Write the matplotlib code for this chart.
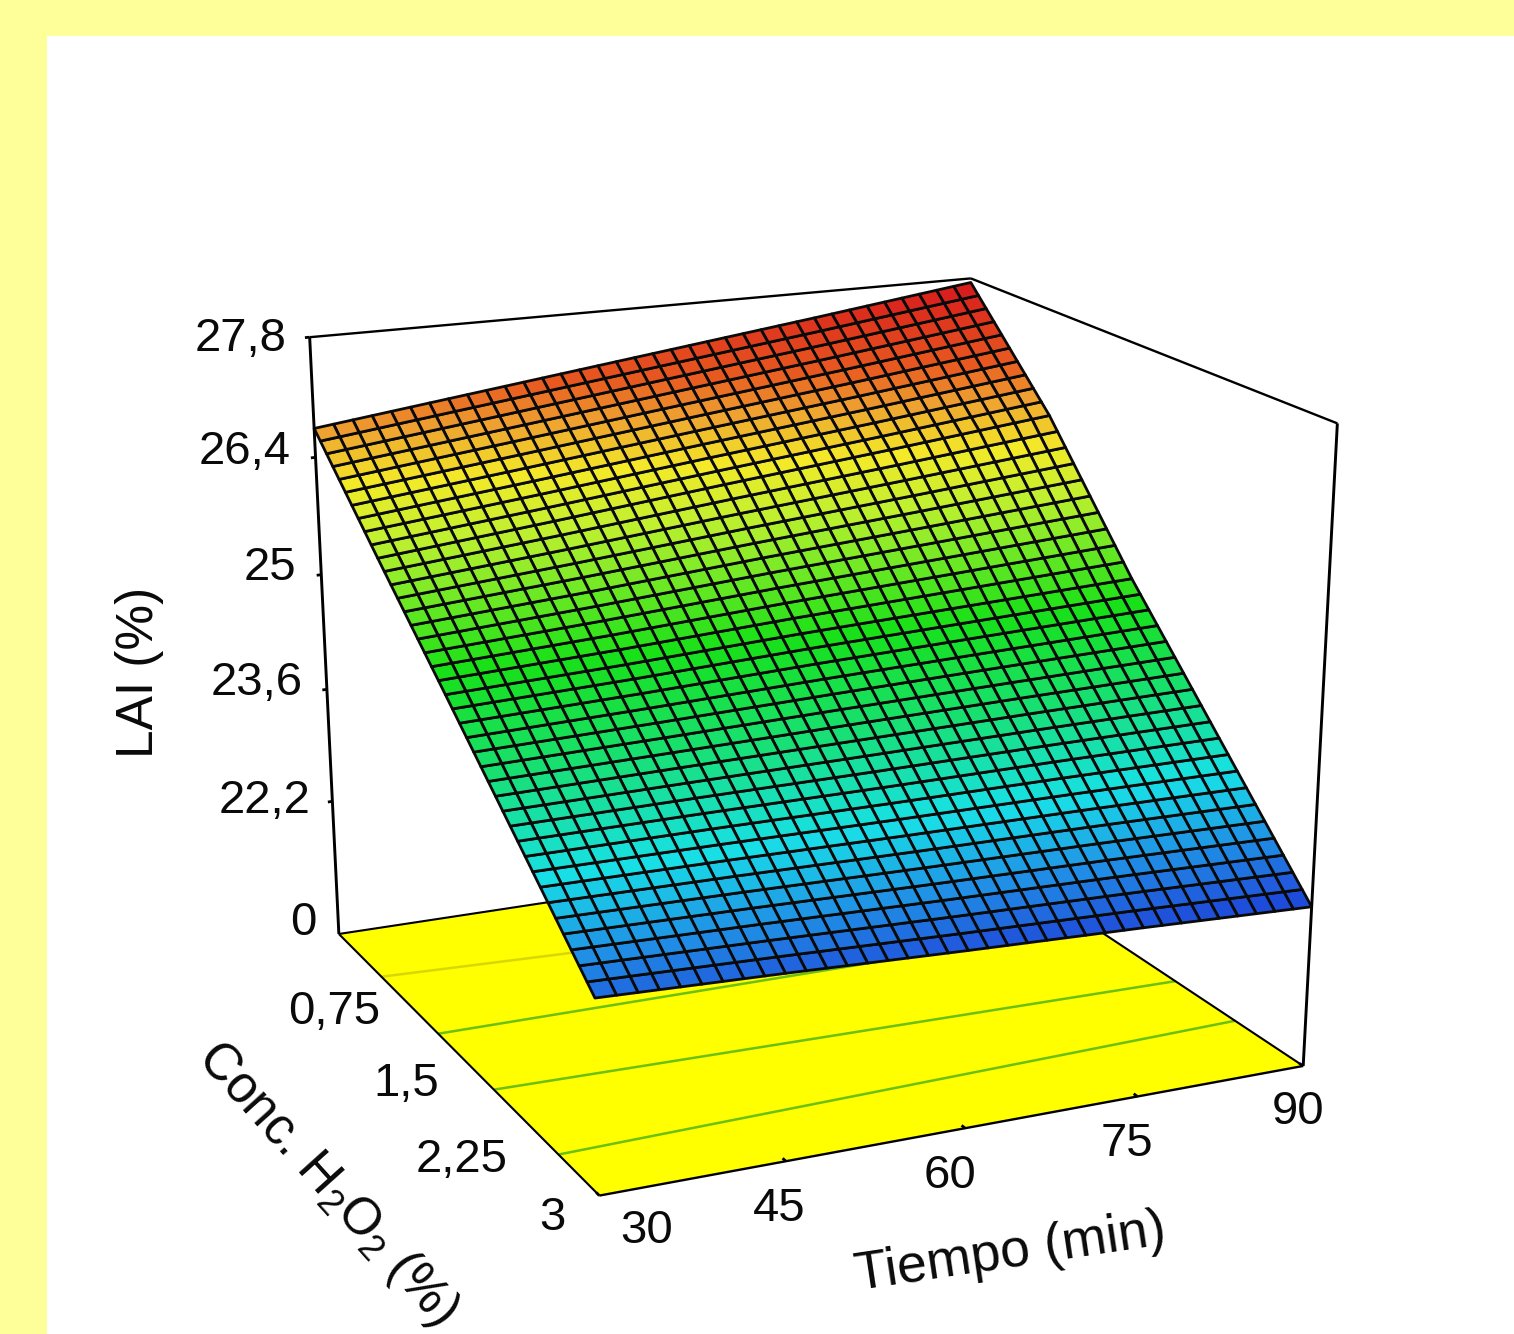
import numpy as np
import matplotlib
matplotlib.use('Agg')
import matplotlib.pyplot as plt
from matplotlib.colors import LinearSegmentedColormap, Normalize
from matplotlib.patches import Rectangle
from mpl_toolkits.mplot3d.art3d import Line3DCollection

plt.rcParams['font.family'] = ['Liberation Sans', 'DejaVu Sans']
plt.rcParams['mathtext.fontset'] = 'custom'
plt.rcParams['mathtext.rm'] = 'Liberation Sans'
plt.rcParams['mathtext.default'] = 'regular'

W, H = 1514, 1334

# values
tiempo = [30, 45, 60, 75, 90]
conc = [0, 0.75, 1.5, 2.25, 3]
lai_by_conc = [
    [26.74, 26.99, 27.24, 27.49, 27.75],
    [25.72, 25.92, 26.13, 26.33, 26.54],
    [24.72, 24.80, 24.90, 24.98, 25.06],
    [23.71, 23.72, 23.72, 23.73, 23.73],
    [22.70, 22.63, 22.55, 22.48, 22.40],
]
floor_z = 20.5  # the axis is broken here, the picture labels this level 0
z_ticks = [22.2, 23.6, 25.0, 26.4, 27.8]
z_labels = ['22,2', '23,6', '25', '26,4', '27,8']
conc_labels = ['0,75', '1,5', '2,25', '3']
tiempo_labels = ['30', '45', '60', '75', '90']

# contours on the floor: conc at tiempo=30 and tiempo=90
contour_conc_30 = [0.56, 1.26, 1.90, 2.59]
contour_conc_90 = [0.80, 1.26, 1.98, 2.47]

color_z = [22.39, 22.64, 23.03, 23.52, 24.22, 24.92, 25.90, 26.34, 26.76, 27.07, 27.75]
color_hex = ['#1a3cd8', '#2058dc', '#2094e6', '#18e0e6', '#18e070', '#18e018',
             '#c0f030', '#f4ea28', '#eea030', '#e85a20', '#d81c1c']

# where the box corners sit in the picture (tiempo, conc, lai) -> pixel
calib_data = [(30, 0, floor_z), (30, 3, floor_z), (90, 3, floor_z), (90, 0, floor_z),
              (30, 0, 27.8), (90, 0, 27.8), (90, 3, 27.8)]
calib_px = [(338, 932), (600, 1197), (1302, 1065), (963, 841),
            (310, 338), (970, 278), (1338, 423)]


def fit_camera(data, px):
    rows = []
    for (x, y, z), (u, v) in zip(data, px):
        rows.append([x, y, z, 1, 0, 0, 0, 0, -u*x, -u*y, -u*z, -u])
        rows.append([0, 0, 0, 0, x, y, z, 1, -v*x, -v*y, -v*z, -v])
    p = np.linalg.svd(np.array(rows, float))[2][-1].reshape(3, 4)
    # the depth row only has to keep the matrix invertible
    depth = np.linalg.svd(p)[2][-1]
    return np.array([p[0], p[1], depth, p[2]])


M = fit_camera(calib_data, calib_px)

fig = plt.figure(figsize=(W/100, H/100), dpi=100, facecolor='#FFFF99')
fig.add_artist(Rectangle((47/W, 0), 1 - 47/W, 1 - 36/H, transform=fig.transFigure,
                         facecolor='white', edgecolor='none', zorder=-5))

ax = fig.add_axes([0, 0, 1, 1], projection='3d', computed_zorder=False)
ax.set_axis_off()
ax.patch.set_visible(False)
ax.get_proj = lambda: M
# the 3d axes is drawn in a centred square, so its 2d limits are given in pixels
ax.viewLim.intervalx = ((W - H)/2, (W + H)/2)
ax.viewLim.intervaly = (H, 0)


def add_lines(segments, color='black', lw=1.8, zorder=4):
    ax.add_collection3d(Line3DCollection(segments, colors=color, linewidths=lw, zorder=zorder))


z0, z1 = floor_z, z_ticks[-1]
t0, t1 = tiempo[0], tiempo[-1]
c0, c1 = conc[0], conc[-1]

# floor
fx, fy = np.meshgrid([t0, t1], [c0, c1])
ax.plot_surface(fx, fy, np.full(fx.shape, z0), color='#FFFF00', shade=False,
                linewidth=0, zorder=1)
for a, b in zip(contour_conc_30, contour_conc_90):
    faint = a < 0.6
    add_lines([[(t0, a, z0), (t1, b, z0)]], color='#d8d800' if faint else '#6cc010',
              lw=1.8, zorder=2)

# box lines behind the surface
add_lines([[(t0, c0, z0), (t1, c0, z0)], [(t1, c0, z0), (t1, c1, z0)]], lw=1.5, zorder=2)

# surface: the mesh is refined from the table
t_mesh = np.linspace(t0, t1, 37)
c_mesh = np.linspace(c0, c1, 41)
lai = np.array(lai_by_conc)
by_t = np.array([np.interp(t_mesh, tiempo, row) for row in lai])
lai_mesh = np.array([np.interp(c_mesh, conc, col) for col in by_t.T]).T
tm, cm = np.meshgrid(t_mesh, c_mesh)
norm = Normalize(color_z[0], color_z[-1])
cmap = LinearSegmentedColormap.from_list(
    'lai', [(norm(z), c) for z, c in zip(color_z, color_hex)])
ax.plot_surface(tm, cm, lai_mesh, rstride=1, cstride=1, facecolors=cmap(norm(lai_mesh)),
                shade=False, edgecolor='#0a0a0a', linewidth=2.0, zorder=3)

# box lines in front
add_lines([[(t0, c0, z0), (t0, c0, z1)], [(t1, c1, z0), (t1, c1, z1)]], lw=2.1)
add_lines([[(t0, c0, z1), (t1, c0, z1)], [(t1, c0, z1), (t1, c1, z1)],
           [(t0, c1, z0), (t1, c1, z0)]], lw=1.7)
add_lines([[(t0, c0, z0), (t0, c1, z0)]], lw=1.5)

# tick stubs
add_lines([[(t0, c0, z), (t0 - 0.4, c0, z)] for z in z_ticks], lw=2)
add_lines([[(t, c1, z0), (t, c1 - 0.03, z0)] for t in tiempo], lw=2)


# labels, placed by pixel
def put(x, y, s, size=34, rotation=0):
    fig.text(x/W, 1 - y/H, s, fontsize=size, rotation=rotation, ha='center', va='center',
             rotation_mode='anchor', color='#0a0a0a')


put(303, 923, '0')
z_label_px = [(265, 801), (257, 683), (270, 568), (245, 452), (241, 339)]
for (x, y), s in zip(z_label_px, z_labels):
    put(x, y, s)
conc_label_px = [(334, 1012), (406, 1084), (462, 1160), (552, 1218)]
for (x, y), s in zip(conc_label_px, conc_labels):
    put(x, y, s)
tiempo_label_px = [(647, 1231), (779, 1209), (950, 1176), (1127, 1144), (1298, 1112)]
for (x, y), s in zip(tiempo_label_px, tiempo_labels):
    put(x, y, s)

put(140, 672, 'LAI (%)', size=37, rotation=90)
put(327, 1184, 'Conc. H$_2$O$_2$ (%)', size=37, rotation=-48)
put(1010, 1253, 'Tiempo (min)', size=38.5, rotation=8.5)

fig.savefig('out.png', dpi=100, facecolor=fig.get_facecolor())
